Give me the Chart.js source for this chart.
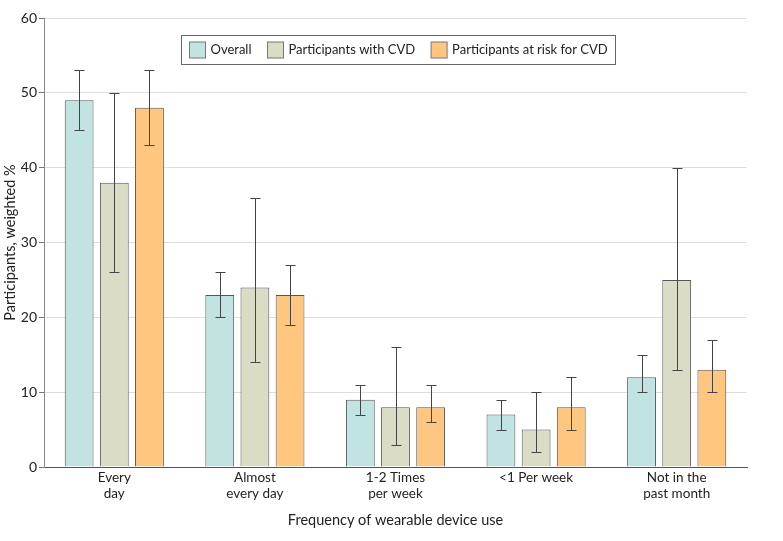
<!DOCTYPE html>
<html>
<head>
<meta charset="utf-8">
<script src="https://cdn.jsdelivr.net/npm/chart.js@4.4.1/dist/chart.umd.min.js"></script>
<style>
  body { margin: 0; background: #fff; }
  canvas { display: block; }
</style>
</head>
<body>
<canvas id="chart" width="783" height="541"></canvas>
<script>
// categories on the x axis
const categories = [['Every', 'day'], ['Almost', 'every day'], ['1-2 Times', 'per week'], '<1 Per week', ['Not in the', 'past month']];

// weighted %, with lower / upper error bounds
const overall = [49, 23, 9, 7, 12];
const overallLow = [45, 20, 7, 5, 10];
const overallHigh = [53, 26, 11, 9, 15];

const withCvd = [38, 24, 8, 5, 25];
const withCvdLow = [26, 14, 3, 2, 13];
const withCvdHigh = [50, 36, 16, 10, 40];

const atRisk = [48, 23, 8, 8, 13];
const atRiskLow = [43, 19, 6, 5, 10];
const atRiskHigh = [53, 27, 11, 12, 17];

const yTicks = [0, 10, 20, 30, 40, 50, 60];

const FONT = "Lato, 'Noto Sans', sans-serif";

// error bars drawn on top of each bar
const errorBars = {
    id: 'errorBars',
    afterDatasetsDraw(chart) {
        const ctx = chart.ctx;
        const y = chart.scales.y;
        ctx.save();
        ctx.strokeStyle = '#444';
        ctx.lineWidth = 1;
        chart.data.datasets.forEach((ds, i) => {
            const meta = chart.getDatasetMeta(i);
            meta.data.forEach((bar, j) => {
                const x = Math.round(bar.x) + 0.5;
                const lo = Math.round(y.getPixelForValue(ds.low[j])) + 0.5;
                const hi = Math.round(y.getPixelForValue(ds.high[j])) + 0.5;
                ctx.beginPath();
                ctx.moveTo(x, lo); ctx.lineTo(x, hi);
                ctx.moveTo(x - 5, lo); ctx.lineTo(x + 5, lo);
                ctx.moveTo(x - 5, hi); ctx.lineTo(x + 5, hi);
                ctx.stroke();
            });
        });
        ctx.restore();
    }
};

// boxed legend inside the plot area
const boxLegend = {
    id: 'boxLegend',
    afterDraw(chart) {
        const ctx = chart.ctx;
        ctx.save();
        ctx.font = '13px ' + FONT;
        ctx.textBaseline = 'middle';
        const items = chart.data.datasets.map(ds => ({
            label: ds.label, color: ds.backgroundColor, w: ctx.measureText(ds.label).width
        }));
        const sw = 16, gapText = 5, gapItem = 16, pad = 8;
        let total = pad * 2;
        items.forEach((it, k) => { total += sw + gapText + it.w + (k ? gapItem : 0); });
        const left = Math.round(398.5 - total / 2) + 0.5;
        const top = 35.5, h = 29;
        ctx.strokeStyle = '#666';
        ctx.lineWidth = 1;
        ctx.strokeRect(left, top, Math.round(total), h);
        let x = left + pad;
        const cy = top + h / 2;
        items.forEach(it => {
            ctx.fillStyle = it.color;
            ctx.fillRect(x, cy - 8, sw, sw);
            ctx.strokeStyle = '#777';
            ctx.strokeRect(x, cy - 8, sw, sw);
            x += sw + gapText;
            ctx.fillStyle = '#222';
            ctx.fillText(it.label, x, cy);
            x += it.w + gapItem;
        });
        ctx.restore();
    }
};

new Chart(document.getElementById('chart'), {
    type: 'bar',
    data: {
        labels: categories,
        datasets: [{
            label: 'Overall',
            data: overall, low: overallLow, high: overallHigh,
            backgroundColor: '#c1e4e3'
        }, {
            label: 'Participants with CVD',
            data: withCvd, low: withCvdLow, high: withCvdHigh,
            backgroundColor: '#dadcc6'
        }, {
            label: 'Participants at risk for CVD',
            data: atRisk, low: atRiskLow, high: atRiskHigh,
            backgroundColor: '#fec67e'
        }]
    },
    options: {
        responsive: false,
        animation: false,
        events: [],
        layout: { padding: { top: 18, right: 36, left: 0, bottom: 0 } },
        datasets: {
            bar: {
                borderColor: '#555',
                borderWidth: 1,
                categoryPercentage: 0.75,
                barPercentage: 0.82
            }
        },
        plugins: {
            legend: { display: false },
            tooltip: { enabled: false }
        },
        scales: {
            x: {
                grid: { display: false, drawTicks: false, tickLength: 0 },
                border: { display: true, color: '#555', width: 1 },
                ticks: {
                    color: '#222',
                    padding: 3,
                    maxRotation: 0,
                    font: { family: FONT, size: 13.5, lineHeight: 1.18 }
                },
                title: {
                    display: true,
                    text: 'Frequency of wearable device use',
                    color: '#222',
                    padding: { top: 0, bottom: 12 },
                    font: { family: FONT, size: 14.5, lineHeight: 1.2 }
                },
                afterFit(scale) { scale.height = 74; }
            },
            y: {
                min: 0,
                max: 60,
                afterBuildTicks(scale) { scale.ticks = yTicks.map(v => ({ value: v })); },
                grid: {
                    color: ctx => ctx.tick && ctx.tick.value === 0 ? 'rgba(0,0,0,0)' : '#dedede',
                    tickColor: '#777',
                    tickLength: 5
                },
                border: { display: true, color: '#888', width: 1 },
                ticks: {
                    color: '#222',
                    padding: 2,
                    font: { family: FONT, size: 14 }
                },
                title: {
                    display: true,
                    text: 'Participants, weighted %',
                    color: '#222',
                    padding: { top: 2, bottom: 0 },
                    font: { family: FONT, size: 14.5, lineHeight: 1.2 }
                },
                afterFit(scale) { scale.width = 44; }
            }
        }
    },
    plugins: [errorBars, boxLegend]
});
</script>
</body>
</html>
